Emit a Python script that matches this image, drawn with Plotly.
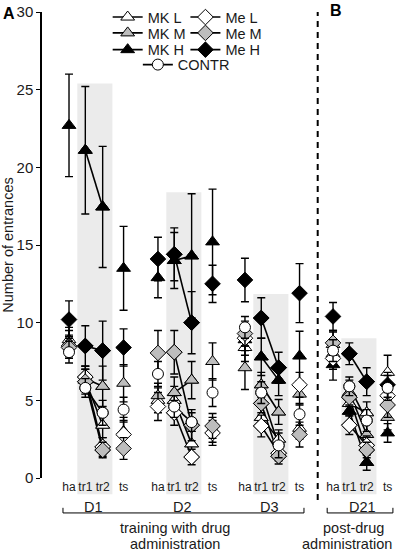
import plotly.graph_objects as go

# ---------------- data ----------------
days = ["D1", "D2", "D3", "D21"]
phases = ["ha", "tr1", "tr2", "ts"]
phase_pos = [0, 0.92, 1.9, 3.08]
day_start = [0, 5.02, 9.93, 14.9]

mk_l = [8.9, 6.3, 3.4, 3.0,   5.0, 5.0, 2.2, 3.1,   8.4, 3.9, 2.5, 3.2,   8.6, 4.8, 4.2, 6.8]
mk_m = [8.7, 6.4, 5.9, 6.1,   5.3, 5.5, 6.3, 7.5,   7.1, 6.0, 4.25, 5.4,  8.0, 5.5, 2.8, 3.9]
mk_h = [22.7, 21.1, 17.45, 13.5, 12.9, 14.0, 14.3, 15.2, 8.9, 7.8, 6.3, 7.85, 7.3, 4.3, 1.0, 2.9]
me_l = [8.5, 6.5, 2.0, 2.8,   4.6, 4.2, 1.35, 2.9,  9.0, 3.35, 1.6, 6.0,  7.7, 3.4, 2.1, 5.3]
me_m = [8.4, 6.2, 1.8, 1.9,   8.05, 8.1, 3.4, 3.35, 9.3, 4.8, 1.4, 2.8,   8.7, 5.2, 1.8, 4.7]
me_h = [10.2, 8.5, 8.2, 8.4,  14.1, 14.4, 10.0, 12.5, 12.75, 10.3, 7.1, 11.9, 10.4, 8.0, 6.2, 6.0]
contr = [8.1, 5.8, 4.2, 4.4,  6.7, 4.6, 3.6, 5.5,   9.7, 5.5, 2.1, 4.1,   8.2, 5.9, 3.7, 5.8]

mk_l_err = [0.8, 0.7, 0.8, 0.9,  0.8, 0.9, 0.8, 0.8,  0.9, 0.8, 0.6, 0.7,  0.8, 0.8, 0.7, 1.1]
mk_m_err = [0.8, 0.8, 1.3, 1.2,  0.8, 1.0, 1.2, 1.2,  1.4, 0.8, 0.8, 0.7,  0.7, 0.8, 0.7, 0.8]
mk_h_err = [3.3, 4.1, 3.9, 2.7,  1.3, 1.8, 4.0, 3.4,  1.0, 1.2, 1.0, 1.6,  1.0, 0.7, 0.5, 0.6]
me_l_err = [0.7, 0.7, 0.6, 0.9,  0.9, 0.8, 0.5, 0.8,  0.8, 0.7, 0.5, 0.8,  0.7, 0.6, 0.6, 0.8]
me_m_err = [0.7, 0.8, 0.5, 0.7,  1.45, 1.4, 1.0, 0.8, 0.8, 0.6, 0.5, 0.8,  0.8, 0.6, 0.5, 0.8]
me_h_err = [1.2, 1.3, 1.9, 1.2,  1.4, 1.7, 2.0, 1.2,  1.4, 1.3, 1.0, 1.9,  0.9, 0.7, 0.9, 0.8]
contr_err = [0.7, 0.6, 0.8, 0.8, 0.8, 0.7, 0.6, 0.9,  0.7, 0.7, 0.8, 0.7,  0.7, 0.6, 0.7, 0.8]

shade_top = [25.4, 18.4, 11.85, 9.0]
y_ticks = [0, 5, 10, 15, 20, 25, 30]
Y_MAX = 30

# ---------------- styles ----------------
FONT = "Liberation Sans, Arial, sans-serif"
GRAY = "#bdbdbd"
TXT = "#1a1a1a"
# (name, values, errors, symbol, fill, size, legend-id, legend x (paper), legend y (paper))
series = [
    ("MK L", mk_l, mk_l_err, "triangle-up", "white", 12, "legend", 0.185, 0.989),
    ("MK M", mk_m, mk_m_err, "triangle-up", GRAY, 12, "legend2", 0.185, 0.955),
    ("MK H", mk_h, mk_h_err, "triangle-up", "black", 12, "legend3", 0.185, 0.919),
    ("Me L", me_l, me_l_err, "diamond", "white", 12, "legend4", 0.404, 0.989),
    ("Me M", me_m, me_m_err, "diamond", GRAY, 12, "legend5", 0.404, 0.955),
    ("Me H", me_h, me_h_err, "diamond", "black", 12, "legend6", 0.404, 0.919),
    ("CONTR", contr, contr_err, "circle", "white", 11, "legend7", 0.27, 0.887),
]

xs = [day_start[d] + phase_pos[p] for d in range(len(days)) for p in range(len(phases))]

fig = go.Figure()

# lines connecting tr1-tr2 (legend entries carry line+marker)
for name, vals, errs, sym, fill, size, lg, lx_, ly_ in series:
    lx, ly = [], []
    for d in range(len(days)):
        for p in (1, 2):
            lx.append(xs[d * 4 + p])
            ly.append(vals[d * 4 + p])
        lx.append(None)
        ly.append(None)
    fig.add_trace(go.Scatter(
        x=lx, y=ly, mode="lines+markers", name=name, legend=lg,
        line=dict(color="black", width=1.6),
        marker=dict(symbol=sym, size=size, color=fill, line=dict(color="black", width=1)),
        hoverinfo="skip",
    ))

# markers with error bars
for name, vals, errs, sym, fill, size, lg, lx_, ly_ in series:
    fig.add_trace(go.Scatter(
        x=xs, y=vals, mode="markers", name=name, showlegend=False,
        marker=dict(symbol=sym, size=size, color=fill, line=dict(color="black", width=1)),
        error_y=dict(type="data", array=errs, visible=True, color="black", thickness=1.4, width=4),
    ))

shapes = []
# gray shaded training regions
for d in range(len(days)):
    x0 = day_start[d] + phase_pos[1] - 0.45
    x1 = day_start[d] + phase_pos[2] + 0.55
    shapes.append(dict(type="rect", xref="x", yref="paper", x0=x0, x1=x1,
                       y0=-0.035, y1=shade_top[d] / Y_MAX,
                       fillcolor="#ebebeb", line=dict(width=0), layer="below"))

# dashed separator
sep_x = (day_start[2] + phase_pos[3] + day_start[3]) / 2 + 0.08
shapes.append(dict(type="line", xref="x", yref="paper", x0=sep_x, x1=sep_x,
                   y0=-0.047, y1=1.0, line=dict(color="black", width=2, dash="6px,5px")))

# brackets
def bracket(xa, xb):
    yb = -0.075
    yt = -0.064
    return [
        dict(type="line", xref="x", yref="paper", x0=xa, x1=xb, y0=yb, y1=yb, line=dict(color="black", width=1)),
        dict(type="line", xref="x", yref="paper", x0=xa, x1=xa, y0=yb, y1=yt, line=dict(color="black", width=1)),
        dict(type="line", xref="x", yref="paper", x0=xb, x1=xb, y0=yb, y1=yt, line=dict(color="black", width=1)),
    ]

shapes += bracket(day_start[0] - 0.34, day_start[2] + phase_pos[3] + 0.25)
shapes += bracket(day_start[3] - 0.33, day_start[3] + phase_pos[3] + 0.3)

annotations = []
for d, label in enumerate(days):
    annotations.append(dict(x=day_start[d] + (phase_pos[1] + phase_pos[2]) / 2 + (0.25 if d == 3 else 0),
                            y=-0.062, xref="x", yref="paper", yanchor="middle", text=label,
                            showarrow=False, font=dict(size=14.5, family=FONT, color=TXT)))
for txt, xx, yy in [("training with drug", 6.0, -0.108), ("administration", 6.0, -0.141),
                    ("post-drug", 16.05, -0.108), ("administration", 15.7, -0.141)]:
    annotations.append(dict(x=xx, y=yy, xref="x", yref="paper", yanchor="middle", text=txt,
                            showarrow=False, font=dict(size=14.5, family=FONT, color=TXT)))
annotations.append(dict(x=-0.115, y=1, xref="paper", yref="paper", xanchor="left", yanchor="top",
                        text="<b>A</b>", showarrow=False, font=dict(size=16, family=FONT, color="black"),
                        yshift=9))
annotations.append(dict(x=day_start[3] - 0.3, y=1, xref="x", yref="paper", xanchor="left", yanchor="top",
                        text="<b>B</b>", showarrow=False, font=dict(size=16, family=FONT, color="black"),
                        yshift=12))

legends = {}
for name, vals, errs, sym, fill, size, lg, lx_, ly_ in series:
    legends[lg] = dict(x=lx_, y=ly_, xanchor="left", yanchor="middle",
                       bgcolor="rgba(0,0,0,0)", borderwidth=0,
                       font=dict(size=14.5, family=FONT, color=TXT), itemwidth=30)

fig.update_layout(
    width=397, height=553,
    margin=dict(l=42, r=0, t=12, b=75),
    plot_bgcolor="white", paper_bgcolor="white",
    font=dict(family=FONT, color=TXT),
    xaxis=dict(range=[-1.524, 18.51], showgrid=False, zeroline=False, showline=False,
               tickvals=xs, ticktext=phases * len(days), ticks="", tickangle=0,
               tickfont=dict(size=12, family=FONT, color=TXT)),
    yaxis=dict(range=[0, Y_MAX], tickvals=y_ticks, showgrid=False, zeroline=False,
               showline=True, linecolor="black", linewidth=1.5, ticks="outside", ticklen=4,
               tickcolor="black", tickfont=dict(size=15, family=FONT, color=TXT),
               title=dict(text="Number of entrances", font=dict(size=14.5, family=FONT, color=TXT), standoff=4)),
    shapes=shapes,
    annotations=annotations,
    **legends,
)

fig.write_html("out.html", config={"displayModeBar": False},
               post_script="document.body.style.margin='0px';")
